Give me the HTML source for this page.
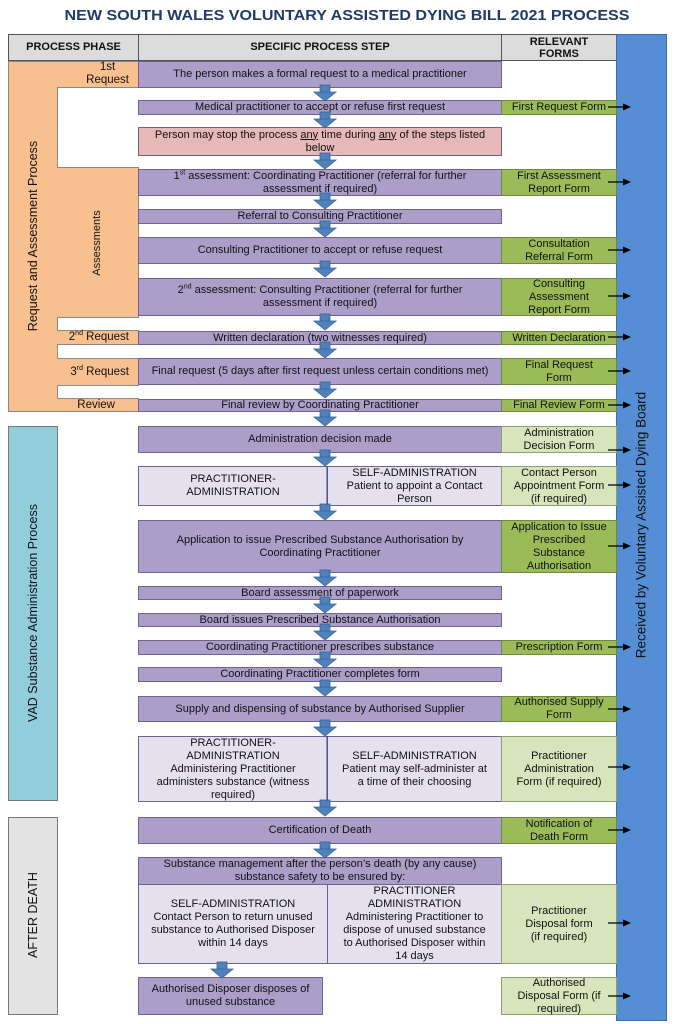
<!DOCTYPE html>
<html><head><meta charset="utf-8"><style>
body{margin:0;width:674px;height:1024px;background:#fff;position:relative;overflow:hidden;font-family:"Liberation Sans",Arial,sans-serif;}
.a{position:absolute;box-sizing:border-box;}
.b{position:absolute;box-sizing:border-box;display:flex;align-items:center;justify-content:center;text-align:center;font-size:11px;line-height:13px;color:#111;border:1px solid #6e6390;}
.b>span{display:block;}
.p{background:#ab9fc9;}
.l{background:#e5e0ee;}
.g{background:#9bbb59;border-color:#6f8a3a;}
.lg{background:#d8e4bc;border-color:#8fa070;}
.h{background:#dcdcdc;border:1px solid #555;font-weight:bold;font-size:11px;}
.v{position:absolute;white-space:nowrap;transform:translate(-50%,-50%) rotate(-90deg);font-size:12px;color:#111;}
sup{font-size:7px;line-height:0;}
</style></head><body>
<svg class="a" style="left:0;top:0" width="674" height="30"><text x="347" y="20" text-anchor="middle" font-family="Liberation Sans,Arial,sans-serif" font-weight="bold" font-size="15" fill="#1f3b66" textLength="565" lengthAdjust="spacingAndGlyphs">NEW SOUTH WALES VOLUNTARY ASSISTED DYING BILL 2021 PROCESS</text></svg>

<div class="b h" style="left:8px;top:34px;width:131px;height:27px;"><span>PROCESS PHASE</span></div>
<div class="b h" style="left:138px;top:34px;width:364px;height:27px;"><span>SPECIFIC PROCESS STEP</span></div>
<div class="b h" style="left:501px;top:34px;width:116px;height:27px;line-height:12px;"><span>RELEVANT<br>FORMS</span></div>
<div class="a" style="left:616px;top:34px;width:51px;height:987px;background:#558ed5;border:1px solid #3d6aa8;"></div>
<div class="v" style="left:641px;top:525px;font-size:13.5px;">Received by Voluntary Assisted Dying Board</div>

<div class="a" style="left:8px;top:61px;width:131px;height:351px;background:#f9c08f;border:1px solid #888;"></div>
<div class="a" style="left:57px;top:87px;width:82px;height:81px;background:#fff;border:1px solid #888;border-right:none;"></div>
<div class="a" style="left:57px;top:317px;width:82px;height:14px;background:#fff;border:1px solid #888;border-right:none;"></div>
<div class="a" style="left:57px;top:344px;width:82px;height:15px;background:#fff;border:1px solid #888;border-right:none;"></div>
<div class="a" style="left:57px;top:385px;width:82px;height:14px;background:#fff;border:1px solid #888;border-right:none;"></div>
<div class="b" style="left:57px;top:61px;width:78px;height:26px;border:none;justify-content:flex-end;font-size:11.5px;padding-right:6px;"><span>1st<br>Request</span></div>
<div class="b" style="left:57px;top:331px;width:78px;height:13px;border:none;justify-content:flex-end;font-size:11.5px;padding-right:6px;"><span>2<sup>nd</sup> Request</span></div>
<div class="b" style="left:57px;top:359px;width:78px;height:26px;border:none;justify-content:flex-end;font-size:11.5px;padding-right:6px;"><span>3<sup>rd</sup> Request</span></div>
<div class="b" style="left:57px;top:399px;width:78px;height:13px;border:none;justify-content:flex-end;font-size:11.5px;padding-right:20px;"><span>Review</span></div>
<div class="v" style="left:33px;top:236px;font-size:12.5px;">Request and Assessment Process</div>
<div class="v" style="left:97px;top:243px;font-size:11px;">Assessments</div>

<div class="a" style="left:8px;top:426px;width:50px;height:375px;background:#92cddc;border:1px solid #777;"></div>
<div class="v" style="left:33px;top:613px;font-size:12.5px;">VAD Substance Administration Process</div>
<div class="a" style="left:8px;top:817px;width:50px;height:198px;background:#e3e3e3;border:1px solid #777;"></div>
<div class="v" style="left:33px;top:915px;font-size:12.5px;">AFTER DEATH</div>

<div class="b p" style="left:138px;top:61px;width:364px;height:27px;"><span>The person makes a formal request to a medical practitioner</span></div>
<div class="b p" style="left:138px;top:100px;width:364px;height:15px;"><span>Medical practitioner to accept or refuse first request</span></div>
<div class="b g" style="left:501px;top:100px;width:116px;height:15px;"><span>First Request Form</span></div>
<div class="b" style="left:138px;top:127px;width:364px;height:29px;background:#e6b8b7;"><span>Person may stop the process <u>any</u> time during <u>any</u> of the steps listed<br>below</span></div>
<div class="b p" style="left:138px;top:169px;width:364px;height:27px;"><span>1<sup>st</sup> assessment: Coordinating Practitioner (referral for further<br>assessment if required)</span></div>
<div class="b g" style="left:501px;top:169px;width:116px;height:27px;"><span>First Assessment<br>Report Form</span></div>
<div class="b p" style="left:138px;top:209px;width:364px;height:15px;"><span>Referral to Consulting Practitioner</span></div>
<div class="b p" style="left:138px;top:237px;width:364px;height:27px;"><span>Consulting Practitioner to accept or refuse request</span></div>
<div class="b g" style="left:501px;top:237px;width:116px;height:27px;"><span>Consultation<br>Referral Form</span></div>
<div class="b p" style="left:138px;top:278px;width:364px;height:38px;"><span>2<sup>nd</sup> assessment: Consulting Practitioner (referral for further<br>assessment if required)</span></div>
<div class="b g" style="left:501px;top:278px;width:116px;height:38px;"><span>Consulting<br>Assessment<br>Report Form</span></div>
<div class="b p" style="left:138px;top:331px;width:364px;height:14px;"><span>Written declaration (two witnesses required)</span></div>
<div class="b g" style="left:501px;top:331px;width:116px;height:14px;"><span>Written Declaration</span></div>
<div class="b p" style="left:138px;top:358px;width:364px;height:27px;"><span>Final request (5 days after first request unless certain conditions met)</span></div>
<div class="b g" style="left:501px;top:358px;width:116px;height:27px;"><span>Final Request<br>Form</span></div>
<div class="b p" style="left:138px;top:399px;width:364px;height:13px;"><span>Final review by Coordinating Practitioner</span></div>
<div class="b g" style="left:501px;top:399px;width:116px;height:13px;"><span>Final Review Form</span></div>

<div class="b p" style="left:138px;top:426px;width:364px;height:27px;"><span>Administration decision made</span></div>
<div class="b lg" style="left:501px;top:426px;width:116px;height:27px;"><span>Administration<br>Decision Form</span></div>
<div class="b l" style="left:138px;top:466px;width:190px;height:40px;"><span>PRACTITIONER-<br>ADMINISTRATION</span></div>
<div class="b l" style="left:327px;top:466px;width:175px;height:40px;"><span>SELF-ADMINISTRATION<br>Patient to appoint a Contact<br>Person</span></div>
<div class="b lg" style="left:501px;top:466px;width:116px;height:40px;"><span>Contact Person<br>Appointment Form<br>(if required)</span></div>
<div class="b p" style="left:138px;top:520px;width:364px;height:53px;"><span>Application to issue Prescribed Substance Authorisation by<br>Coordinating Practitioner</span></div>
<div class="b g" style="left:501px;top:520px;width:116px;height:53px;"><span>Application to Issue<br>Prescribed<br>Substance<br>Authorisation</span></div>
<div class="b p" style="left:138px;top:586px;width:364px;height:14px;"><span>Board assessment of paperwork</span></div>
<div class="b p" style="left:138px;top:613px;width:364px;height:14px;"><span>Board issues Prescribed Substance Authorisation</span></div>
<div class="b p" style="left:138px;top:640px;width:364px;height:15px;"><span>Coordinating Practitioner prescribes substance</span></div>
<div class="b g" style="left:501px;top:640px;width:116px;height:15px;"><span>Prescription Form</span></div>
<div class="b p" style="left:138px;top:667px;width:364px;height:15px;"><span>Coordinating Practitioner completes form</span></div>
<div class="b p" style="left:138px;top:696px;width:364px;height:26px;"><span>Supply and dispensing of substance by Authorised Supplier</span></div>
<div class="b g" style="left:501px;top:696px;width:116px;height:26px;"><span>Authorised Supply<br>Form</span></div>
<div class="b l" style="left:138px;top:736px;width:190px;height:66px;"><span>PRACTITIONER-<br>ADMINISTRATION<br>Administering Practitioner<br>administers substance (witness<br>required)</span></div>
<div class="b l" style="left:327px;top:736px;width:175px;height:66px;"><span>SELF-ADMINISTRATION<br>Patient may self-administer at<br>a time of their choosing</span></div>
<div class="b lg" style="left:501px;top:736px;width:116px;height:66px;"><span>Practitioner<br>Administration<br>Form (if required)</span></div>

<div class="b p" style="left:138px;top:817px;width:364px;height:27px;"><span>Certification of Death</span></div>
<div class="b g" style="left:501px;top:817px;width:116px;height:27px;"><span>Notification of<br>Death Form</span></div>
<div class="b p" style="left:138px;top:857px;width:364px;height:28px;"><span>Substance management after the person’s death (by any cause)<br>substance safety to be ensured by:</span></div>
<div class="b l" style="left:138px;top:884px;width:190px;height:80px;"><span>SELF-ADMINISTRATION<br>Contact Person to return unused<br>substance to Authorised Disposer<br>within 14 days</span></div>
<div class="b l" style="left:327px;top:884px;width:175px;height:80px;"><span>PRACTITIONER<br>ADMINISTRATION<br>Administering Practitioner to<br>dispose of unused substance<br>to Authorised Disposer within<br>14 days</span></div>
<div class="b lg" style="left:501px;top:884px;width:116px;height:80px;"><span>Practitioner<br>Disposal form<br>(if required)</span></div>
<div class="b p" style="left:138px;top:977px;width:185px;height:38px;"><span>Authorised Disposer disposes of<br>unused substance</span></div>
<div class="b lg" style="left:501px;top:977px;width:116px;height:38px;"><span>Authorised<br>Disposal Form (if<br>required)</span></div>

<svg class="a" style="left:0;top:0" width="674" height="1024">
<defs>
<g id="dn"><rect x="-5" y="0" width="10" height="8" fill="#4f81bd" stroke="#3a6399" stroke-width="0.8"/><polygon points="-11,7 11,7 0,16" fill="#4f81bd" stroke="#3a6399" stroke-width="0.8"/></g>
<g id="ra"><line x1="0" y1="0" x2="17" y2="0" stroke="#000" stroke-width="1.3"/><polygon points="15,-3.5 23,0 15,3.5" fill="#000"/></g>
</defs>
<g>
<use href="#dn" x="325" y="85"/><use href="#dn" x="325" y="112"/><use href="#dn" x="325" y="153"/>
<use href="#dn" x="325" y="193"/><use href="#dn" x="325" y="221"/><use href="#dn" x="325" y="261"/>
<use href="#dn" x="325" y="314"/><use href="#dn" x="325" y="342"/><use href="#dn" x="325" y="382"/>
<use href="#dn" x="325" y="410"/><use href="#dn" x="325" y="450"/><use href="#dn" x="325" y="504"/>
<use href="#dn" x="325" y="570"/><use href="#dn" x="325" y="597"/><use href="#dn" x="325" y="624"/>
<use href="#dn" x="325" y="652"/><use href="#dn" x="325" y="680"/><use href="#dn" x="325" y="720"/>
<use href="#dn" x="325" y="800"/><use href="#dn" x="325" y="842"/><use href="#dn" x="222" y="962"/>
</g>
<g>
<use href="#ra" x="608" y="107"/><use href="#ra" x="608" y="182"/><use href="#ra" x="608" y="250"/>
<use href="#ra" x="608" y="296"/><use href="#ra" x="608" y="337"/><use href="#ra" x="608" y="371"/>
<use href="#ra" x="608" y="405"/><use href="#ra" x="608" y="450"/><use href="#ra" x="608" y="485"/>
<use href="#ra" x="608" y="546"/><use href="#ra" x="608" y="647"/><use href="#ra" x="608" y="709"/>
<use href="#ra" x="608" y="767"/><use href="#ra" x="608" y="830"/><use href="#ra" x="608" y="923"/>
<use href="#ra" x="608" y="996"/>
</g>
<line x1="327" y1="466" x2="327" y2="505" stroke="#3a4a80" stroke-width="1"/>
<line x1="327" y1="736" x2="327" y2="801" stroke="#3a4a80" stroke-width="1"/>
</svg>
</body></html>
